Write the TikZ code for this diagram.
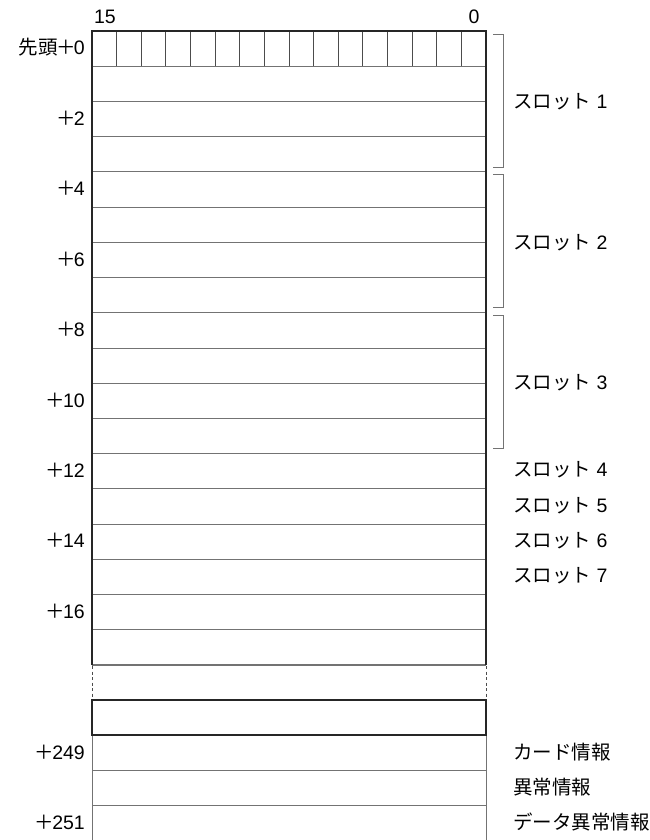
\documentclass[tikz,border=0pt]{standalone}
\usepackage{fontspec}
\setmainfont{Liberation Sans}
\newfontfamily\jpfont{Noto Sans CJK JP}
\newcommand\wideplus{\kern-1.5pt{\jpfont ＋}\kern-2pt}
\usetikzlibrary{positioning}

\begin{document}
\begin{tikzpicture}[
    x=1pt, y=-1pt,
    frameLine/.style={line width=2.3pt, draw=black!85},
    rowLine/.style={line width=0.9pt, draw=black!55},
    bitLine/.style={line width=0.9pt, draw=black!70},
    bracketLine/.style={line width=0.9pt, draw=black!55},
    gapLine/.style={line width=0.8pt, draw=black!70, dash pattern=on 3pt off 2.5pt},
    offsetLabel/.style={anchor=base east, inner sep=0pt, font=\fontsize{19.5}{22}\selectfont},
    slotLabel/.style={anchor=base west, inner sep=0pt, font=\fontsize{19.5}{22}\selectfont}
]
\useasboundingbox (0,0) rectangle (650,840);

% ----------------------------------------------------
% Upper word table (rows +0 .. +17)
% ----------------------------------------------------
\def\rowH{35.22}
\foreach \i in {1,...,17}
    \draw[rowLine] (92, 31+\i*\rowH) -- (486, 31+\i*\rowH);
\draw[rowLine, line width=1.6pt] (92, 665) -- (486, 665);

% bit cells of the first word
\foreach \b in {1,...,15}
    \draw[bitLine] (92+\b*24.625, 31) -- (92+\b*24.625, 66.2);

\draw[frameLine] (92, 665) -- (92, 31) -- (486, 31) -- (486, 665);

\node (bit15) at (105, 24) [anchor=base, inner sep=0pt, font=\fontsize{19.5}{22}\selectfont] {15};
\node (bit0) at (474, 24) [anchor=base, inner sep=0pt, font=\fontsize{19.5}{22}\selectfont] {0};

% ----------------------------------------------------
% Offsets on the left
% ----------------------------------------------------
\node[offsetLabel] (off0) at (85, 55) {{\jpfont 先頭}\wideplus 0};
\node[offsetLabel] (off2) at (85, 125.4) {\wideplus 2};
\node[offsetLabel] (off4) at (85, 195.7) {\wideplus 4};
\node[offsetLabel] (off6) at (85, 266.1) {\wideplus 6};
\node[offsetLabel] (off8) at (85, 336.6) {\wideplus 8};
\node[offsetLabel] (off10) at (85, 407) {\wideplus 10};
\node[offsetLabel] (off12) at (85, 477.4) {\wideplus 12};
\node[offsetLabel] (off14) at (85, 547.9) {\wideplus 14};
\node[offsetLabel] (off16) at (85, 618.3) {\wideplus 16};

% ----------------------------------------------------
% Slot brackets and names
% ----------------------------------------------------
\foreach \k in {0,1,2}
    \draw[bracketLine] (493, 34+\k*140.9) -- (503, 34+\k*140.9)
        -- (503, 167+\k*140.9) -- (493, 167+\k*140.9);

\node[slotLabel] (slot1) at (513, 108.5) {{\jpfont スロット} 1};
\node[slotLabel] (slot2) at (513, 249) {{\jpfont スロット} 2};
\node[slotLabel] (slot3) at (513, 389.5) {{\jpfont スロット} 3};
\node[slotLabel] (slot4) at (513, 476.9) {{\jpfont スロット} 4};
\node[slotLabel] (slot5) at (513, 512.2) {{\jpfont スロット} 5};
\node[slotLabel] (slot6) at (513, 547.4) {{\jpfont スロット} 6};
\node[slotLabel] (slot7) at (513, 582.6) {{\jpfont スロット} 7};

% ----------------------------------------------------
% Omitted part
% ----------------------------------------------------
\draw[gapLine] (92, 666) -- (92, 700);
\draw[gapLine] (486, 666) -- (486, 700);

% ----------------------------------------------------
% Lower word table (+248 .. +251)
% ----------------------------------------------------
\draw[rowLine] (92, 770) -- (486, 770);
\draw[rowLine] (92, 805) -- (486, 805);
\draw[rowLine] (92, 735) -- (92, 840);
\draw[rowLine] (486, 735) -- (486, 840);
\draw[frameLine] (92, 700) rectangle (486, 735);

\node[offsetLabel] (off249) at (85, 759.5) {\wideplus 249};
\node[offsetLabel] (off251) at (85, 829.5) {\wideplus 251};

\node[slotLabel] (card) at (513, 759) {\jpfont カード情報};
\node[slotLabel] (err) at (513, 794) {\jpfont 異常情報};
\node[slotLabel] (dataErr) at (513, 829) {\jpfont データ異常情報};

\end{tikzpicture}
\end{document}
